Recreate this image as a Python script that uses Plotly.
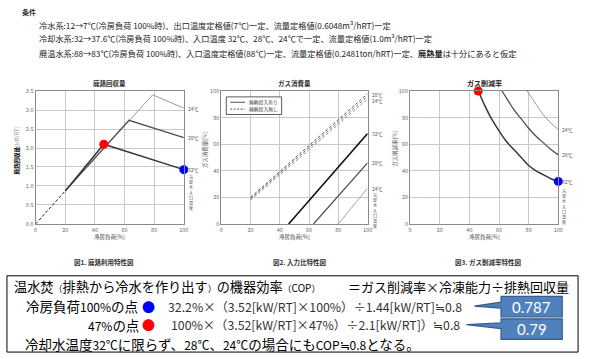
import plotly.graph_objects as go

W, H = 589, 359
JP = "Noto Sans CJK JP"

# ---------------- data ----------------
load_ticks = [0, 20, 40, 60, 80, 100]

# Fig1: waste heat recovery [kW/RT]
p1_dash_x = [0, 20]
p1_dash_y = [0, 0.87]
p1_32_x = [20, 46, 100]
p1_32_y = [0.87, 2.10, 1.43]
p1_28_x = [20, 63, 100]
p1_28_y = [0.87, 2.73, 2.27]
p1_24_x = [20, 79, 100]
p1_24_y = [0.87, 3.40, 3.05]

# Fig2: gas consumption [%]
p2_no_x = [20, 100]
p2_no32_y = [20, 98]
p2_no28_y = [19, 96]
p2_no24_y = [18, 94]
p2_32_x = [46, 100]
p2_32_y = [0, 68]
p2_28_x = [63, 100]
p2_28_y = [0, 46]
p2_24_x = [80, 100]
p2_24_y = [0, 27]

# Fig3: gas reduction rate [%]
p3_32_x = [46, 50, 55, 60, 65, 70, 75, 80, 85, 90, 95, 100]
p3_32_y = [100, 90, 79, 70, 62, 56, 50, 44, 40, 37, 34, 32]
p3_28_x = [62, 66, 70, 75, 80, 85, 90, 95, 100]
p3_28_y = [100, 93, 86, 79, 72, 66, 61, 56, 52]
p3_24_x = [79, 85, 90, 95, 100]
p3_24_y = [100, 90, 82, 76, 71]

pt_red_x, pt_red_y1, pt_red_y3 = 46, 2.10, 100
pt_blue_x, pt_blue_y1, pt_blue_y3 = 100, 1.43, 32

temps = ["32℃", "28℃", "24℃"]
p2_no_label_y = [101.5, 97.3, 93.1]


def X(px):
    return px / W


def Y(py):
    return 1 - py / H


fig = go.Figure()

C32, C28, C24 = "#383838", "#505050", "#9a9a9a"


def line(x, y, ax, color, width, dash="solid", shape="linear"):
    fig.add_trace(go.Scatter(x=x, y=y, mode="lines", xaxis="x" + ax, yaxis="y" + ax,
                             line=dict(color=color, width=width, dash=dash, shape=shape),
                             showlegend=False, hoverinfo="skip"))


# Fig1
line(p1_dash_x, p1_dash_y, "", "#222", 1, "3px,2px")
line(p1_24_x, p1_24_y, "", C24, 1)
line(p1_28_x, p1_28_y, "", C28, 1.3)
line(p1_32_x, p1_32_y, "", C32, 1.5)
# Fig2
for yy, c in [(p2_no32_y, "#444"), (p2_no28_y, "#666"), (p2_no24_y, "#888")]:
    line(p2_no_x, yy, "2", c, 0.9, "3px,2px")
line(p2_32_x, p2_32_y, "2", "#111", 1.6)
line(p2_28_x, p2_28_y, "2", "#444", 1.2)
line(p2_24_x, p2_24_y, "2", C24, 0.9)
# Fig3
line(p3_32_x, p3_32_y, "3", C32, 1.5, shape="spline")
line(p3_28_x, p3_28_y, "3", C28, 1.3, shape="spline")
line(p3_24_x, p3_24_y, "3", C24, 1, shape="spline")

for ax, ys in [("", (pt_red_y1, pt_blue_y1)), ("3", (pt_red_y3, pt_blue_y3))]:
    fig.add_trace(go.Scatter(x=[pt_red_x], y=[ys[0]], mode="markers", xaxis="x" + ax, yaxis="y" + ax,
                             marker=dict(color="#ff0000", size=9), cliponaxis=False,
                             showlegend=False, hoverinfo="skip"))
    fig.add_trace(go.Scatter(x=[pt_blue_x], y=[ys[1]], mode="markers", xaxis="x" + ax, yaxis="y" + ax,
                             marker=dict(color="#0000ff", size=9), cliponaxis=False,
                             showlegend=False, hoverinfo="skip"))

axbase = dict(showgrid=True, gridcolor="#c8c8c8", gridwidth=1, showline=True, linecolor="#8a8a8a",
              linewidth=1, mirror=True, zeroline=False, ticks="", fixedrange=True,
              tickfont=dict(family=JP, size=5.5, color="#666"))

ydom = [Y(225), Y(89)]
layout = dict(width=W, height=H, margin=dict(l=0, r=0, t=0, b=0), autosize=False,
              paper_bgcolor="white", plot_bgcolor="white", showlegend=False)
doms = {"": (34, 184), "2": (222, 370), "3": (413, 563)}
yranges = {"": [0, 3.5], "2": [0, 100], "3": [0, 100]}
ydt = {"": 0.5, "2": 20, "3": 20}
for k, (a, b) in doms.items():
    layout["xaxis" + k] = dict(axbase, domain=[X(a), X(b)], range=[0, 100], tickvals=load_ticks,
                               anchor="y" + k)
    yd = dict(axbase, domain=ydom, range=yranges[k], dtick=ydt[k], anchor="x" + k)
    if k == "":
        yd["tickformat"] = ".1f"
    layout["yaxis" + k] = yd
fig.update_layout(**layout)

ann = []


def A(px, py, text, size, color="#000", xa="center", ya="middle", angle=0, family=JP, **kw):
    ann.append(dict(x=X(px), y=Y(py), xref="paper", yref="paper", text=text, showarrow=False,
                    xanchor=xa, yanchor=ya, textangle=angle,
                    font=dict(family=family, size=size, color=color), **kw))


def AD(ax, x, y, text, size=5, color="#555"):
    ann.append(dict(x=x, y=y, xref="x" + ax, yref="y" + ax, text=text, showarrow=False,
                    xanchor="left", yanchor="middle", xshift=2,
                    font=dict(family=JP, size=size, color=color)))


# header conditions
A(18, 8, "<b>条件</b>", 7, "#333", xa="left")
A(35, 21, "冷水系:12→7℃(冷房負荷 100%時)、出口温度定格値(7℃)一定、流量定格値(0.6048m³/hRT)一定",
  8.2, "#222", xa="left")
A(35, 35, "冷却水系:32→37.6℃(冷房負荷 100%時)、入口温度 32℃、28℃、24℃で一定、流量定格値(1.0m³/hRT)一定",
  8.2, "#222", xa="left")
A(35, 50, "廃温水系:88→83℃(冷房負荷 100%時)、入口温度定格値(88℃)一定、流量定格値(0.2481ton/hRT)一定、<b>廃熱量</b>は十分にあると仮定",
  8.2, "#222", xa="left")

# titles
A(109, 81, "<b>廃熱回収量</b>", 6.5, "#333")
A(296, 81, "<b>ガス消費量</b>", 6.5, "#333")
A(488, 81, "<b>ガス削減率</b>", 7, "#222")
for cx in (109, 296, 488):
    A(cx, 238, "冷房負荷[%]", 5.5, "#444")
A(15, 150, "<b>廃熱回収量</b><span style='color:#999;font-weight:normal'>[kW/RT]</span>", 5.5, "#000", angle=-90)
A(205, 150, "ガス消費量[%]", 5.5, "#555", angle=-90)
A(397, 148, "ガス削減率[%]", 5.5, "#555", angle=-90)

# temperature labels
for t, yv in zip(temps, [p1_32_y[-1], p1_28_y[-1], p1_24_y[-1]]):
    AD("", 100, yv, t)
for t, yv in zip(temps, [p2_32_y[-1], p2_28_y[-1], p2_24_y[-1]]):
    AD("2", 100, yv, t)
for t, yv in zip(temps, p2_no_label_y):
    AD("2", 100, yv, t)
for t, yv in zip(temps, [p3_32_y[-1], p3_28_y[-1], p3_24_y[-1]]):
    AD("3", 100, yv, t)
vert = "<br>".join("冷却水入口温度")
A(191, 193, vert, 4, "#444")
A(377, 211, vert, 4, "#444")
A(569, 207, vert, 4, "#444")

# legend in fig 2
shapes = [
    dict(type="rect", xref="paper", yref="paper", x0=X(227), x1=X(283), y0=Y(113), y1=Y(95),
         line=dict(color="#333", width=0.8), fillcolor="white", layer="above"),
    dict(type="line", xref="paper", yref="paper", x0=X(231), x1=X(246), y0=Y(100.5), y1=Y(100.5),
         line=dict(color="#222", width=0.8)),
    dict(type="line", xref="paper", yref="paper", x0=X(231), x1=X(246), y0=Y(107.5), y1=Y(107.5),
         line=dict(color="#222", width=0.8, dash="2px,1.5px")),
]
A(248, 100.5, "廃熱投入有り", 4.8, "#333", xa="left")
A(248, 107.5, "廃熱投入無し", 4.8, "#333", xa="left")

# captions
A(103, 264, "<b>図1. 廃熱利用特性図</b>", 6.5, "#333")
A(301, 264, "<b>図2. 入力比特性図</b>", 6.5, "#333")
A(492, 264, "<b>図3. ガス削減率特性図</b>", 6.5, "#333")

# explanation box
shapes.append(dict(type="rect", xref="paper", yref="paper", x0=X(5), x1=X(583), y0=Y(356), y1=Y(278),
                   line=dict(color="#000", width=1), fillcolor="rgba(0,0,0,0)"))
S = "<span style='font-size:12px'>%s</span>"
P = "<span style='font-size:9px'>%s</span>"
A(10.5, 289, "温水焚" + P % "（" + "排熱から冷水を作り出す" + P % "）" + "の機器効率" + P % "（"
  + "<span style='font-size:10px'>COP</span>" + P % "）", 13.2, "#000", xa="left")
A(576, 289, "＝ガス削減率×冷凍能力÷排熱回収量", 13, "#000", xa="right")
A(22, 309, "冷房負荷" + S % "100%" + "の点", 13.5, "#000", xa="left")
A(148, 309, "●", 13, "#0000ff")
A(166, 310, "32.2%×（3.52[kW/RT]×100%）÷1.44[kW/RT]≒0.8", 12.3, "#333", xa="left")
A(141, 328, S % "47%" + "の点", 13.5, "#000", xa="right")
A(148, 328, "●", 13, "#ff0000")
A(169, 328, "100%×（3.52[kW/RT]×47%）÷2.1[kW/RT]）≒0.8", 12.3, "#333", xa="left")
A(21, 348, "冷却水温度" + S % "32℃" + "に限らず、" + S % "28℃" + "、" + S % "24℃" + "の場合にも"
  + S % "COP≒0.8" + "となる。", 13.5, "#000", xa="left")


# callouts
def callout(x0, x1, y0, y1, tipx, tipy, wy0, wy1, text):
    path = "M %f %f L %f %f L %f %f L %f %f L %f %f L %f %f L %f %f Z" % (
        X(x0), Y(y0), X(x1), Y(y0), X(x1), Y(y1), X(x0), Y(y1), X(x0), Y(wy1),
        X(tipx), Y(tipy), X(x0), Y(wy0))
    shapes.append(dict(type="path", xref="paper", yref="paper", path=path,
                       fillcolor="#4f81bd", line=dict(color="#385d8a", width=1.2)))
    A((x0 + x1) / 2, (y0 + y1) / 2, text, 15, "#fff", family="Lato")


callout(505, 567, 299, 320, 478, 309, 305, 311, "0.787")
callout(505, 567, 322, 343, 470, 328, 326, 332, "0.79")

fig.update_layout(annotations=ann, shapes=shapes)
fig.write_html("out.html")
